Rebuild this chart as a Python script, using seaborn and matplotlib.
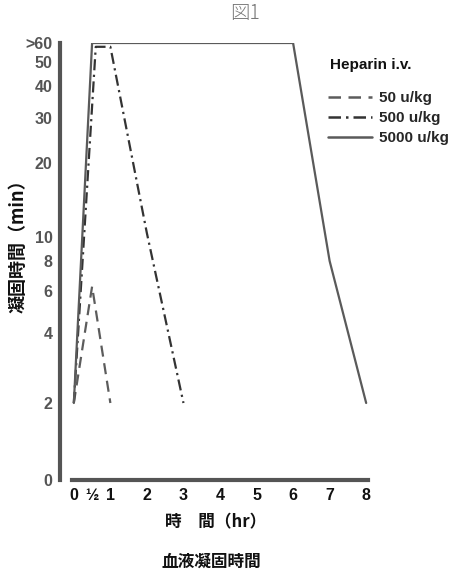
import numpy as np
import pandas as pd
import matplotlib
matplotlib.use("Agg")
import matplotlib.pyplot as plt
import seaborn as sns
from matplotlib.lines import Line2D

# ---- data ----
doses = ["50 u/kg", "500 u/kg", "5000 u/kg"]
hours_50 = [0, 0.5, 1]
clot_50 = [2, 6.3, 2]
hours_500 = [0, 0.6, 1.0, 2.0, 3.0]
clot_500 = [2, 58, 58, 10.5, 2]
hours_5000 = [0, 0.5, 6, 7, 8]
clot_5000 = [2, 60, 60, 8, 2]

x_ticks = [0, 0.5, 1, 2, 3, 4, 5, 6, 7, 8]
x_ticklabels = ["0", "½", "1", "2", "3", "4", "5", "6", "7", "8"]
y_ticks = [0, 2, 4, 6, 8, 10, 20, 30, 40, 50, 60]
y_ticklabels = ["0", "2", "4", "6", "8", "10", "20", "30", "40", "50", ">60"]

df = pd.concat([
    pd.DataFrame({"hr": hours_50, "min": clot_50, "dose": doses[0]}),
    pd.DataFrame({"hr": hours_500, "min": clot_500, "dose": doses[1]}),
    pd.DataFrame({"hr": hours_5000, "min": clot_5000, "dose": doses[2]}),
], ignore_index=True)

# nonuniform (roughly logarithmic) axis from original figure
_vals = np.array([0, 2, 4, 6, 8, 10, 20, 30, 40, 50, 60], dtype=float)
_hts = np.array([0, 77, 147, 189, 219, 243, 317, 362, 394, 418, 437], dtype=float)

def fwd(v):
    return np.interp(v, _vals, _hts)

def inv(h):
    return np.interp(h, _hts, _vals)

sns.set_style("white")
plt.rcParams["font.family"] = ["Liberation Sans", "Noto Sans CJK JP", "DejaVu Sans"]

fig = plt.figure(figsize=(4.58, 5.71), dpi=100)
ax = fig.add_axes([72 / 458, 1 - 480 / 571, 296 / 458, 437 / 571])

colors = {doses[0]: "#5c5c5c", doses[1]: "#333333", doses[2]: "#5a5a5a"}
dashes = {doses[0]: (5, 3), doses[1]: (5, 2, 1, 2), doses[2]: ""}
sns.lineplot(data=df, x="hr", y="min", hue="dose", style="dose", palette=colors,
             dashes=dashes, linewidth=1.6, sort=False, estimator=None, ax=ax, legend=False)

ax.set_yscale("function", functions=(fwd, inv))
ax.set_ylim(0, 60)
ax.set_xlim(-0.05, 8.05)

ax.set_xticks(x_ticks)
ax.set_xticklabels(x_ticklabels)
ax.set_yticks(y_ticks)
ax.set_yticklabels(y_ticklabels)
ax.minorticks_off()

for s in ["top", "right"]:
    ax.spines[s].set_visible(False)
for s in ["left", "bottom"]:
    ax.spines[s].set_linewidth(3)
    ax.spines[s].set_color("#555555")
ax.spines["left"].set_position(("outward", 9))

ax.tick_params(axis="y", direction="out", length=4, width=2.5, color="#555555",
               pad=1, labelsize=11.5, labelcolor="#555555")
ax.tick_params(axis="x", direction="out", length=3, width=1.5, color="#444444",
               pad=3, labelsize=11.5, labelcolor="#111111")
for lab in ax.get_xticklabels() + ax.get_yticklabels():
    lab.set_fontweight("bold")

ax.set_xlabel("")
ax.set_ylabel("")

cjk = ["Noto Sans CJK JP", "DejaVu Sans"]
fig.text(18 / 458, 1 - 242 / 571, "凝固時間（min）", rotation=90, ha="center", va="center",
         family=cjk, fontsize=13, fontweight="bold", color="#111111")
fig.text(216 / 458, 1 - 522 / 571, "時　間（hr）", ha="center", va="center",
         family=cjk, fontsize=12, fontweight="bold", color="#111111")
fig.text(211 / 458, 1 - 562 / 571, "血液凝固時間", ha="center", va="center",
         family=cjk, fontsize=12, fontweight="bold", color="#111111")
fig.text(245 / 458, 1 - 14 / 571, "図1", ha="center", va="center",
         family=cjk, fontsize=14, fontweight="light", color="#777777")
fig.text(330 / 458, 1 - 65 / 571, "Heparin i.v.", ha="left", va="center",
         fontsize=11, fontweight="bold", color="#111111")

handles = [Line2D([], [], color=colors[d], lw=1.8,
                  linestyle=((0, dashes[d]) if dashes[d] else "-")) for d in doses]
leg = fig.legend(handles, doses, loc="upper left", bbox_to_anchor=(322 / 458, 1 - 85 / 571),
                 frameon=False, handlelength=2.9, handletextpad=0.45, labelspacing=0.4,
                 borderpad=0.2, borderaxespad=0.2, prop={"weight": "bold", "size": 11})

fig.savefig("out.png", dpi=100)
